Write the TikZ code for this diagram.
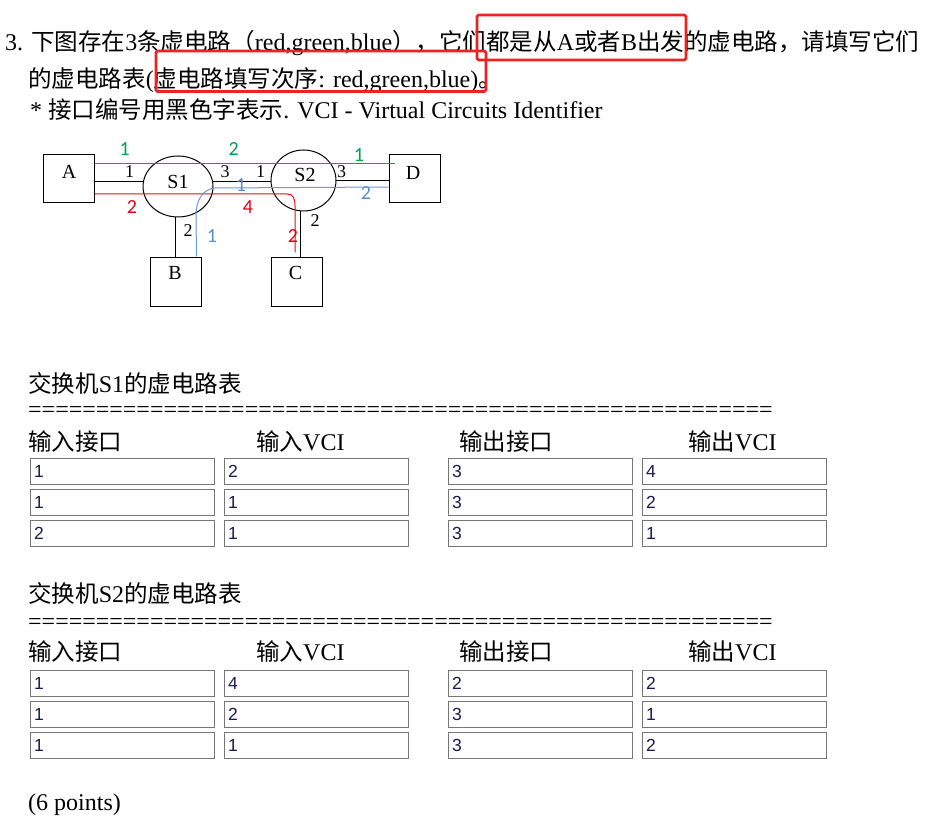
\documentclass[tikz,border=0pt]{standalone}
\usepackage{fontspec}
\setmainfont{Liberation Serif}
\newfontfamily\cjk[Scale=0.98]{Noto Sans CJK SC}
\newfontfamily\calfont{Carlito}
\newfontfamily\arialfont{Liberation Sans}
\usetikzlibrary{shapes.geometric,backgrounds}
\definecolor{gline}{RGB}{40,150,80}
\definecolor{glab}{RGB}{0,160,80}
\definecolor{rline}{RGB}{215,20,20}
\definecolor{rlab}{RGB}{225,0,20}
\definecolor{bline}{RGB}{110,155,210}
\definecolor{blab}{RGB}{90,140,200}
\definecolor{fgray}{RGB}{118,118,118}
\definecolor{navy}{RGB}{25,25,85}
\definecolor{hlred}{RGB}{235,35,35}
\newcommand\zh[1]{{\cjk #1}}
\begin{document}
\begin{tikzpicture}[x=1pt,y=-1pt,
  txt/.style={anchor=base west,inner sep=0pt,font=\fontsize{24}{28}\selectfont},
  sq/.style={draw,line width=1pt,fill=white,minimum width=51pt,minimum height=48pt,inner sep=0pt},
  ell/.style={ellipse,draw,line width=1pt,fill=white,inner sep=0pt},
  nlab/.style={inner sep=0pt,font=\fontsize{20}{22}\selectfont},
  port/.style={inner sep=0pt,font=\fontsize{18}{20}\selectfont},
  clab/.style={inner sep=0pt,font=\calfont\fontsize{20}{22}\selectfont},
  blk/.style={line width=1pt,black},
  fld/.style={anchor=north west,draw=fgray,line width=1pt,minimum height=26pt,text width=177pt,
    inner xsep=3.5pt,inner ysep=0pt,align=left,text=navy,font=\arialfont\fontsize{17.5}{20}\selectfont},
  hl/.style={draw=hlred,line width=2.8pt,rounded corners=1.5pt,inner sep=0pt}
]
\begin{pgfonlayer}{background}
\fill[white] (0,0) rectangle (926,826);
\end{pgfonlayer}
\useasboundingbox (0,0) rectangle (926,826);

% ---------- heading text ----------
\node[txt] (l1) at (5,51) {3. \zh{下图存在}3\zh{条虚电路（}red,green,blue\zh{），它们都是从}A\zh{或者}B\zh{出发的虚电路，请填写它们}};
\node[txt] (l2) at (28,88) {\zh{的虚电路表}(\zh{虚电路填写次序}: red,green,blue)\zh{。}};
\node[txt] (l3) at (30,119) {* \zh{接口编号用黑色字表示}. VCI - Virtual Circuits Identifier};

% ---------- diagram nodes ----------
\node[sq] (A) at (68.5,179) {};
\node[sq] (D) at (414.5,179) {};
\node[sq] (B) at (175.5,282) {};
\node[sq] (C) at (296.5,282) {};
\node[ell,minimum width=70pt,minimum height=61pt] (S1) at (178,186.5) {};
\node[ell,minimum width=65pt,minimum height=61pt] (S2) at (303.5,180.5) {};

% black links (behind the switches)
\coordinate (pA) at ([yshift=-3pt]A.east);
\coordinate (p12) at ([yshift=4.5pt]S1.center);
\coordinate (pD) at ([yshift=-2pt]D.west);
\coordinate (pC) at ([xshift=3.5pt]C.north);
\begin{pgfonlayer}{background}
\draw[blk] (pA) -- (pA -| S1.center);
\draw[blk] (p12) -- (p12 -| S2.center);
\draw[blk] (pD) -- (pD -| S2.center);
\draw[blk] (B.north) -- (B.north |- S1.center);
\draw[blk] (pC) -- (pC |- S2.center);
\end{pgfonlayer}

% coloured virtual circuits
\coordinate (gA) at ([yshift=15pt]A.east);
\coordinate (gD) at ([xshift=6pt,yshift=15pt]D.west);
\draw[gline,line width=1pt] (gA) -- (gD);
\coordinate (rA) at ([yshift=-15pt]A.east);
\coordinate (rC) at ([xshift=-1.5pt,yshift=5pt]C.north);
\draw[rline,line width=1pt] (rA) -- (287,194) .. controls (293,194) and (295,198) .. (295,206) -- (rC);
\coordinate (bB) at ([xshift=21pt,yshift=1pt]B.north);
\coordinate (bD) at ([yshift=-8pt]D.west);
\draw[bline,line width=1pt] (bB) -- (196,215) .. controls (196,200) and (203,189) .. (215,188) -- (bD);

% node labels
\node[nlab] (tA) at (69,172) {A};
\node[nlab] (tD) at (413,172.5) {D};
\node[nlab] (tB) at (175,272.5) {B};
\node[nlab] (tC) at (295.5,273) {C};
\node[nlab] (tS1) at (178,182) {S1};
\node[nlab] (tS2) at (305,174.5) {S2};

% port numbers
\node[port] (p1) at (129.7,172) {1};
\node[port] (p2) at (225,172) {3};
\node[port] (p3) at (260.5,172) {1};
\node[port] (p4) at (341.7,172) {3};
\node[port] (p5) at (188,231) {2};
\node[port] (p6) at (315,221) {2};

% VCI labels
\node[clab,text=glab] (g1) at (124.7,149.5) {1};
\node[clab,text=glab] (g2) at (233.8,149) {2};
\node[clab,text=glab] (g3) at (359,155) {1};
\node[clab,text=rlab] (r1) at (132,207.5) {2};
\node[clab,text=rlab] (r2) at (248,207.5) {4};
\node[clab,text=rlab] (r3) at (293,236) {2};
\node[clab,text=blab] (b1) at (241,185) {1};
\node[clab,text=blab] (b2) at (366,193) {2};
\node[clab,text=blab] (b3) at (212,236) {1};

% ---------- table S1 ----------
\node[txt] (t1) at (28,392) {\zh{交换机}S1\zh{的虚电路表}};
\node[txt] (e1) at (28,417) {=======================================================};
\node[txt] (h11) at (28,450) {\zh{输入接口}};
\node[txt] (h12) at (256,450) {\zh{输入}VCI};
\node[txt] (h13) at (459,450) {\zh{输出接口}};
\node[txt] (h14) at (688,450) {\zh{输出}VCI};
\foreach \r/\yy/\a/\b/\cc/\d in {1/458/1/2/3/4, 2/489/1/1/3/2, 3/520/2/1/3/1} {
  \node[fld] (s1r\r c1) at (30,\yy) {\a};
  \node[fld] (s1r\r c2) at (224,\yy) {\b};
  \node[fld] (s1r\r c3) at (448,\yy) {\cc};
  \node[fld] (s1r\r c4) at (642,\yy) {\d};
}

% ---------- table S2 ----------
\node[txt] (t2) at (28,602) {\zh{交换机}S2\zh{的虚电路表}};
\node[txt] (e2) at (28,629) {=======================================================};
\node[txt] (h21) at (28,660) {\zh{输入接口}};
\node[txt] (h22) at (256,660) {\zh{输入}VCI};
\node[txt] (h23) at (459,660) {\zh{输出接口}};
\node[txt] (h24) at (688,660) {\zh{输出}VCI};
\foreach \r/\yy/\a/\b/\cc/\d in {1/670/1/4/2/2, 2/701/1/2/3/1, 3/732/1/1/3/2} {
  \node[fld] (s2r\r c1) at (30,\yy) {\a};
  \node[fld] (s2r\r c2) at (224,\yy) {\b};
  \node[fld] (s2r\r c3) at (448,\yy) {\cc};
  \node[fld] (s2r\r c4) at (642,\yy) {\d};
}

\node[txt] (pts) at (28,810) {(6 points)};

% ---------- red highlight boxes ----------
\node[hl,minimum width=209pt,minimum height=45pt] (hl1) at (581.5,37.5) {};
\node[hl,minimum width=330pt,minimum height=40.5pt] (hl2) at (321,71.25) {};
\end{tikzpicture}
\end{document}
